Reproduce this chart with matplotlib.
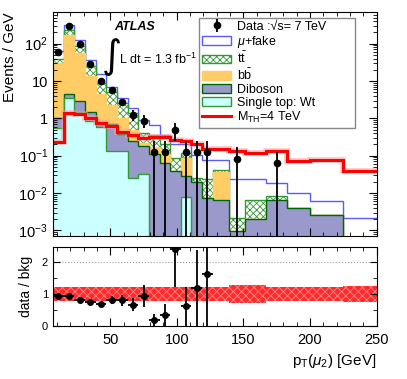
import numpy as np
import matplotlib
matplotlib.use('Agg')
import matplotlib.pyplot as plt
from matplotlib.ticker import MultipleLocator, LogLocator, NullFormatter

plt.rcParams['font.family'] = ['Liberation Sans', 'DejaVu Sans']
plt.rcParams['mathtext.fontset'] = 'custom'
plt.rcParams['mathtext.rm'] = 'Liberation Sans'
plt.rcParams['mathtext.it'] = 'Liberation Sans:italic'
plt.rcParams['mathtext.bf'] = 'Liberation Sans:bold'
plt.rcParams['hatch.linewidth'] = 0.6

# bin edges in GeV
edges = np.array([7, 15, 23, 31, 39, 47, 55, 63, 71, 79, 87, 95, 103, 111, 119,
                  127, 139, 151, 167, 183, 200, 225, 250])

# background contributions, events / GeV
single_top = [0.55, 3.4, 1.5, 0.85, 0.6, 0.13, 0.13, 0.025, 0.033, 0, 0,
              0, 0.008, 0, 0, 0, 0, 0, 0, 0, 0, 0]
diboson = [0.45, 1.2, 1.5, 0.65, 0.2, 0.57, 0.25, 0.225, 0.147, 0.11, 0.064,
           0.04, 0.02, 0.02, 0.0075, 0.0066, 0.00094, 0.002, 0.0066, 0.004, 0.0025, 0]
bbbar = [29.0, 165.0, 52.0, 12.5, 3.8, 1.6, 0.62, 0.25, 0.04, 0.06, 0.046,
         0, 0.058, 0, 0, 0.0304, 0, 0, 0, 0, 0, 0]
ttbar = [8.0, 60.0, 33.0, 12.0, 4.4, 2.7, 1.6, 0.9, 0.18, 0.18, 0.09,
         0.046, 0.034, 0.005, 0.0155, 0.005, 0.00116, 0.0046, 0.0015, 0, 0, 0]
mu_fake = [26.0, 88.0, 34.0, 11.0, 6.0, 2.0, 0.8, 0.5, 0.53, 0.3, 0.16,
           0.119, 0.085, 0.08, 0.053, 0.034, 0.0209, 0.0164, 0.0104, 0.006, 0.0037, 0.0021]

# signal M_TH = 4 TeV, events / GeV
signal = [0.23, 1.4, 1.3, 1.0, 0.75, 0.62, 0.42, 0.35, 0.3, 0.31, 0.31,
          0.26, 0.24, 0.21, 0.15, 0.15, 0.13, 0.115, 0.13, 0.07, 0.078, 0.04]

# observed events per bin
data_counts = [488, 2368, 784, 224, 82, 46, 22, 10, 7, 1, 1,
               4, 1, 1, 1, 0, 1, 0, 1, 0, 0, 0]

# relative background uncertainty in the ratio panel
band_halfwidth = [0.22, 0.22, 0.22, 0.22, 0.22, 0.22, 0.22, 0.22, 0.22, 0.22, 0.22,
                  0.22, 0.22, 0.22, 0.22, 0.22, 0.28, 0.28, 0.22, 0.22, 0.22, 0.25]

widths = np.diff(edges)
centers = 0.5 * (edges[1:] + edges[:-1])
counts = np.array(data_counts, dtype=float)
dens = counts / widths
derr = np.sqrt(counts) / widths

stack = np.cumsum([single_top, diboson, bbbar, ttbar, mu_fake], axis=0)
total = stack[-1]
floor = 1e-5

fig = plt.figure(figsize=(4.07, 3.79), dpi=100)
ax = fig.add_axes([0.130, 0.377, 0.7955, 0.591])
ax2 = fig.add_axes([0.130, 0.1406, 0.7955, 0.2085])

styles = [
    # face, hatch colour, outline, hatch, label
    ('#ccffff', '#ccffff', '#339933', None, 'Single top: Wt'),
    ('#9999cc', '#9999cc', '#006600', None, 'Diboson'),
    ('#ffcc66', '#ffcc66', '#ffcc66', None, r'b$\bar{\rm b}$'),
    ('white', '#339933', '#339933', 'xxxxx', r't$\bar{\rm t}$'),
    ('white', 'white', '#5a5aff', None, r'$\mu$+fake'),
]
handles = {}
for i in range(4, -1, -1):
    fc, hc, ec, hatch, lab = styles[i]
    ax.stairs(np.maximum(stack[i], floor), edges, baseline=floor, fill=True,
              facecolor=fc, edgecolor=hc, hatch=hatch, linewidth=0)
    ax.stairs(stack[i], edges, baseline=None, color=ec, linewidth=1.0)
    handles[lab] = plt.Rectangle((0, 0), 1, 1, facecolor=fc, edgecolor=ec,
                                 hatch=hatch, linewidth=1.0)

ax.stairs(signal, edges, baseline=None, color='#ff9999', linewidth=4.0, alpha=0.6)
ax.stairs(signal, edges, baseline=None, color='#ff0000', linewidth=2.2)

m = counts > 0
lo = np.minimum(derr[m], dens[m] - floor)
dat = ax.errorbar(centers[m], dens[m], yerr=[lo, derr[m]], fmt='o', color='k',
                  ms=4.5, elinewidth=1.3, capsize=0, zorder=10)

ax.set_yscale('log')
ax.set_xlim(7, 250)
ax.set_ylim(7e-4, 700)
ax.set_yticks([1e-3, 1e-2, 1e-1, 1, 10, 100],
              [r'$10^{-3}$', r'$10^{-2}$', r'$10^{-1}$', '1', '10', r'$10^{2}$'])
ax.yaxis.set_minor_locator(LogLocator(base=10, subs=np.arange(2, 10), numticks=20))
ax.yaxis.set_minor_formatter(NullFormatter())
ax.xaxis.set_major_locator(MultipleLocator(50))
ax.xaxis.set_minor_locator(MultipleLocator(10))
ax.tick_params(which='both', direction='in', top=True, right=True, labelbottom=False)
ax.tick_params(which='major', length=6, labelsize=10.5)
ax.tick_params(which='minor', length=3)
ax.set_ylabel('Events / GeV', loc='top', fontsize=11, labelpad=1)

ax.text(0.19, 0.935, 'ATLAS', transform=ax.transAxes, fontsize=9,
        fontweight='bold', fontstyle='italic', ha='left', va='center')
ax.text(0.152, 0.80, '\u222b', transform=ax.transAxes, fontsize=28,
        ha='left', va='center', family=['DejaVu Sans'])
ax.text(0.205, 0.79, r'L dt = 1.3 fb$^{-1}$', transform=ax.transAxes,
        fontsize=9, ha='left', va='center')

leg_handles = [dat, handles[r'$\mu$+fake'], handles[r't$\bar{\rm t}$'],
               handles[r'b$\bar{\rm b}$'], handles['Diboson'],
               handles['Single top: Wt'],
               plt.Line2D([], [], color='#ff0000', linewidth=2.2)]
leg_labels = ['Data :\u221as= 7 TeV', r'$\mu$+fake', r't$\bar{\rm t}$',
              r'b$\bar{\rm b}$', 'Diboson', 'Single top: Wt', r'M$_{\rm TH}$=4 TeV']
leg = ax.legend(leg_handles, leg_labels, loc='upper left', mode='expand',
                bbox_to_anchor=(0.452, 0.0, 0.481, 0.975), fontsize=9, frameon=True,
                fancybox=False, edgecolor='#888888', framealpha=1,
                labelspacing=0.08, handlelength=2.3, handletextpad=0.5,
                borderpad=0.25, borderaxespad=0)
leg.get_frame().set_linewidth(1.0)

# ratio panel
ax2.axhline(1, color='#999999', linestyle=':', linewidth=0.8, zorder=0)
ax2.axhline(2, color='#999999', linestyle=':', linewidth=0.8, zorder=0)
hw = np.array(band_halfwidth)
ax2.stairs(1 + hw, edges, baseline=1 - hw, fill=True, facecolor='#ff2a2a',
           edgecolor='#ff8a8a', hatch='xxxx', linewidth=0, zorder=1)

ratio = dens / total
rerr = derr / total
r = m & (ratio <= 2.5)
ax2.errorbar(centers[r], ratio[r], yerr=rerr[r], xerr=widths[r] / 2, fmt='o',
             color='k', ms=4, elinewidth=1.3, capsize=0, zorder=5)

ax2.set_xlim(7, 250)
ax2.set_ylim(0, 2.5)
ax2.set_yticks([0, 1, 2])
ax2.yaxis.set_minor_locator(MultipleLocator(0.5))
ax2.xaxis.set_major_locator(MultipleLocator(50))
ax2.xaxis.set_minor_locator(MultipleLocator(10))
ax2.tick_params(which='both', direction='in', top=True, right=True)
ax2.tick_params(axis='x', which='major', length=6, labelsize=10.5, pad=5)
ax2.tick_params(axis='y', which='major', length=5, labelsize=8)
ax2.tick_params(which='minor', length=3)
ax2.set_ylabel('data / bkg', fontsize=10, labelpad=6)
ax2.set_xlabel(r'p$_{\rm T}$($\mu_{2}$) [GeV]', loc='right', fontsize=11, labelpad=4)

fig.savefig('out.png', dpi=100)
